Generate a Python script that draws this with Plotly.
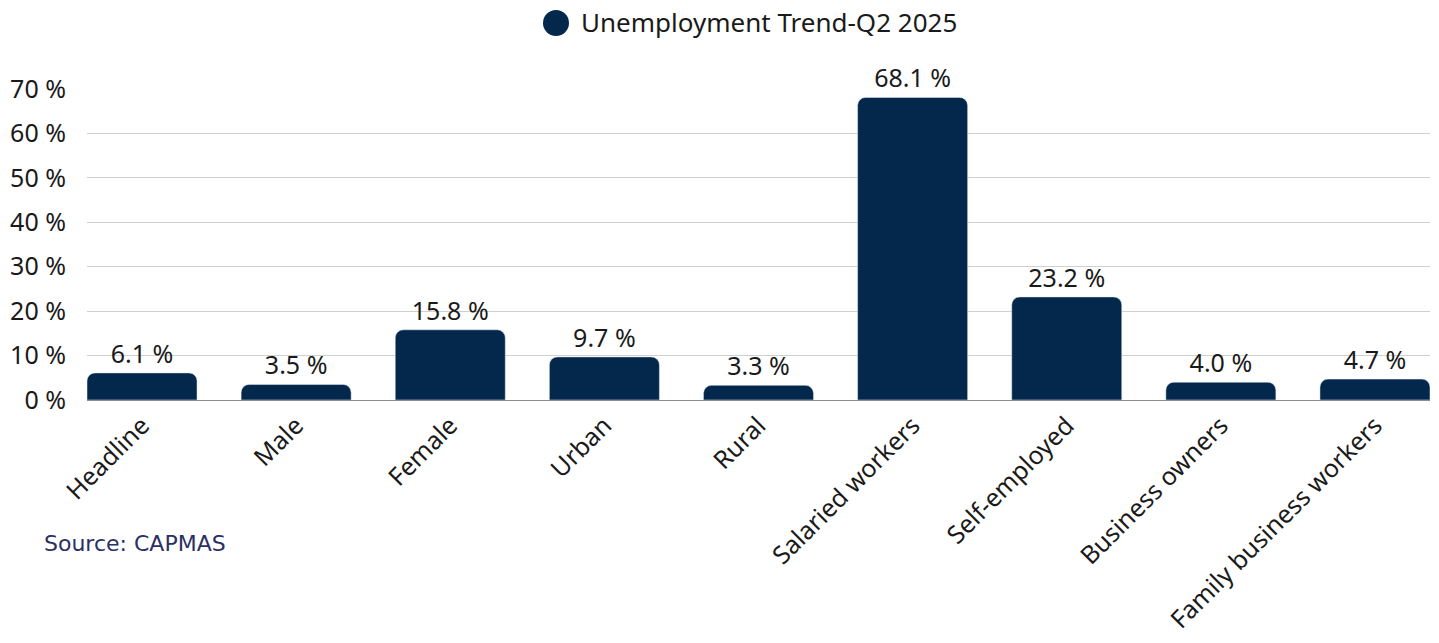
import plotly.graph_objects as go

categories = ["Headline", "Male", "Female", "Urban", "Rural", "Salaried workers",
              "Self-employed", "Business owners", "Family business workers"]
values = [6.1, 3.5, 15.8, 9.7, 3.3, 68.1, 23.2, 4.0, 4.7]
series_name = "Unemployment Trend-Q2 2025"
y_ticks = [0, 10, 20, 30, 40, 50, 60, 70]
y_tick_labels = [f"{v} %" for v in y_ticks]

BAR = "#04284b"
FONT = "Noto Sans"
TXT = "#1a1a1a"
W = 0.714

fig = go.Figure()
fig.add_trace(go.Bar(
    x=categories, y=values, width=W, marker=dict(color=BAR, cornerradius=8),
    text=[f"{v:.1f} %" for v in values], textposition="outside",
    textfont=dict(family=FONT, size=25, color=TXT),
    cliponaxis=False, showlegend=False, name=series_name,
))
fig.update_layout(
    width=1439, height=643,
    margin=dict(l=87, r=9, t=89, b=243),
    paper_bgcolor="white", plot_bgcolor="white",
    font=dict(family=FONT, size=25, color=TXT),
    showlegend=False,
    uniformtext=dict(minsize=25, mode="show"),
)
# legend drawn as circle + text
fig.add_shape(type="circle", xref="paper", yref="paper",
              xsizemode="pixel", ysizemode="pixel",
              xanchor=(556 - 87) / 1343, yanchor=(400 - 23) / 311,
              x0=-13, x1=13, y0=-13, y1=13,
              fillcolor=BAR, line=dict(width=0))
fig.add_annotation(text=series_name, xref="paper", yref="paper",
                   x=(579 - 87) / 1343, y=(400 - 22) / 311,
                   xanchor="left", yanchor="middle", showarrow=False,
                   font=dict(family=FONT, size=26, color=TXT))
fig.update_yaxes(range=[0, 70], tickvals=y_ticks, ticktext=y_tick_labels,
                 showgrid=True, gridcolor="#d0d0d0", gridwidth=1, automargin=False,
                 zeroline=False, showline=False, ticks="", ticklabelstandoff=20,
                 tickfont=dict(family=FONT, size=25, color=TXT))
fig.update_xaxes(tickangle=-45, showline=True, linecolor="#8c8c8c", linewidth=1,
                 range=[-W / 2, len(categories) - 1 + W / 2], automargin=False,
                 ticks="", tickfont=dict(family=FONT, size=25, color=TXT))
fig.add_annotation(text="Source: CAPMAS", xref="paper", yref="paper",
                   x=(42 - 87) / 1343, y=(400 - 543) / 311,
                   xanchor="left", yanchor="middle", showarrow=False,
                   font=dict(family="DejaVu Sans", size=22, color="#2b3064"))
fig.write_html("out.html")
